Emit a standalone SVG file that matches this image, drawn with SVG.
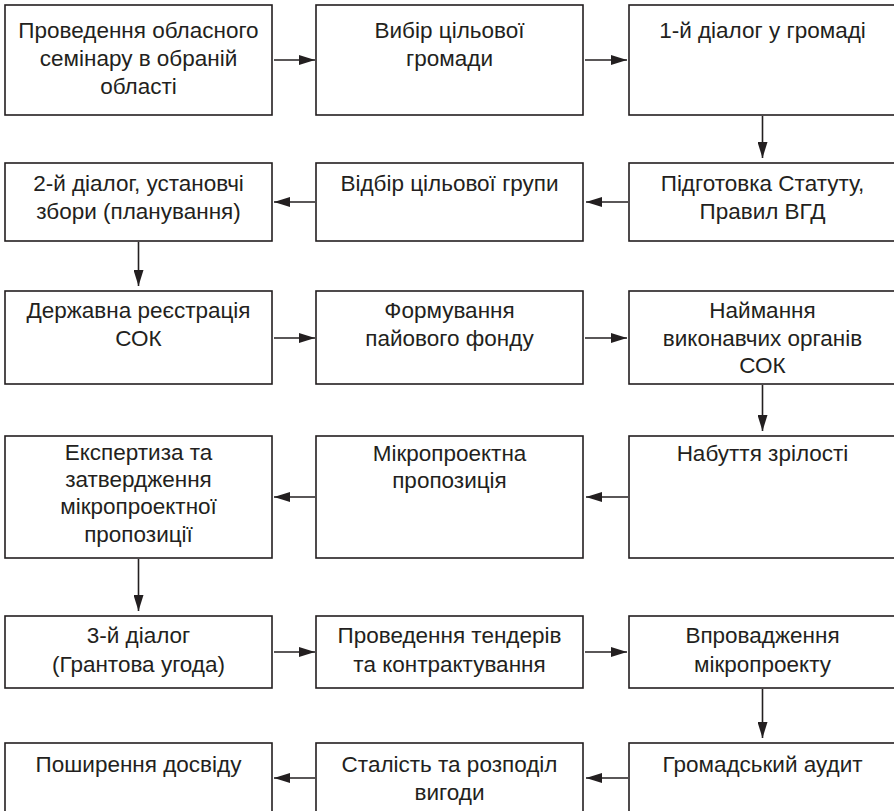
<svg xmlns="http://www.w3.org/2000/svg" width="894" height="811" viewBox="0 0 894 811">
<style>
rect.box{fill:#fff;stroke:#231f20;stroke-width:1.6}
text{font-family:"Liberation Sans",Arial,sans-serif;font-size:22.5px;fill:#231f20;text-anchor:middle}
.conn line{stroke:#231f20;stroke-width:1.6;marker-end:url(#ah)}
</style>
<defs>
<marker id="ah" viewBox="0 0 16 10" refX="16" refY="5" markerWidth="16" markerHeight="10" markerUnits="userSpaceOnUse" orient="auto">
<path d="M0,0 L16,5 L0,10 Z" fill="#231f20"/>
</marker>
</defs>
<rect width="894" height="811" fill="#fff"/>
<g id="n1"><rect class="box" x="5" y="5" width="267" height="110"/><text x="138.5" y="38">Проведення обласного</text><text x="138.5" y="66">семінару в обраній</text><text x="138.5" y="94">області</text></g>
<g id="n2"><rect class="box" x="316" y="5" width="267" height="110"/><text x="449.5" y="38">Вибір цільової</text><text x="449.5" y="66">громади</text></g>
<g id="n3"><rect class="box" x="629" y="5" width="267" height="110"/><text x="762.5" y="38">1-й діалог у громаді</text></g>
<g id="n4"><rect class="box" x="629" y="163" width="267" height="78"/><text x="762.5" y="191">Підготовка Статуту,</text><text x="762.5" y="219">Правил ВГД</text></g>
<g id="n5"><rect class="box" x="316" y="163" width="267" height="78"/><text x="449.5" y="191">Відбір цільової групи</text></g>
<g id="n6"><rect class="box" x="5" y="163" width="267" height="78"/><text x="138.5" y="191">2-й діалог, установчі</text><text x="138.5" y="219">збори (планування)</text></g>
<g id="n7"><rect class="box" x="5" y="291" width="267" height="93"/><text x="138.5" y="318">Державна реєстрація</text><text x="138.5" y="346">СОК</text></g>
<g id="n8"><rect class="box" x="316" y="291" width="267" height="93"/><text x="449.5" y="318">Формування</text><text x="449.5" y="346">пайового фонду</text></g>
<g id="n9"><rect class="box" x="629" y="291" width="267" height="93"/><text x="762.5" y="318">Наймання</text><text x="762.5" y="346">виконавчих органів</text><text x="762.5" y="373">СОК</text></g>
<g id="n10"><rect class="box" x="629" y="436" width="267" height="122"/><text x="762.5" y="461">Набуття зрілості</text></g>
<g id="n11"><rect class="box" x="316" y="436" width="267" height="122"/><text x="449.5" y="461">Мікропроектна</text><text x="449.5" y="488">пропозиція</text></g>
<g id="n12"><rect class="box" x="5" y="436" width="267" height="122"/><text x="138.5" y="460">Експертиза та</text><text x="138.5" y="487">затвердження</text><text x="138.5" y="514">мікропроектної</text><text x="138.5" y="542">пропозиції</text></g>
<g id="n13"><rect class="box" x="5" y="616" width="267" height="72"/><text x="138.5" y="643">3-й діалог</text><text x="138.5" y="672">(Грантова угода)</text></g>
<g id="n14"><rect class="box" x="316" y="616" width="267" height="72"/><text x="449.5" y="643">Проведення тендерів</text><text x="449.5" y="672">та контрактування</text></g>
<g id="n15"><rect class="box" x="629" y="616" width="267" height="72"/><text x="762.5" y="643">Впровадження</text><text x="762.5" y="672">мікропроекту</text></g>
<g id="n16"><rect class="box" x="629" y="743" width="267" height="72"/><text x="762.5" y="772">Громадський аудит</text></g>
<g id="n17"><rect class="box" x="316" y="743" width="267" height="72"/><text x="449.5" y="772">Сталість та розподіл</text><text x="449.5" y="800">вигоди</text></g>
<g id="n18"><rect class="box" x="5" y="743" width="267" height="72"/><text x="138.5" y="772">Поширення досвіду</text></g>
<g class="conn" id="connectors">
<line x1="274" y1="60" x2="315" y2="60"/>
<line x1="585" y1="60" x2="627" y2="60"/>
<line x1="762.5" y1="116" x2="762.5" y2="158"/>
<line x1="628" y1="202" x2="586" y2="202"/>
<line x1="315" y1="202" x2="274" y2="202"/>
<line x1="138.5" y1="242" x2="138.5" y2="286"/>
<line x1="274" y1="338" x2="315" y2="338"/>
<line x1="585" y1="338" x2="627" y2="338"/>
<line x1="762.5" y1="385" x2="762.5" y2="431"/>
<line x1="628" y1="497" x2="586" y2="497"/>
<line x1="315" y1="497" x2="274" y2="497"/>
<line x1="138.5" y1="559" x2="138.5" y2="611"/>
<line x1="274" y1="652" x2="315" y2="652"/>
<line x1="585" y1="652" x2="627" y2="652"/>
<line x1="762.5" y1="689" x2="762.5" y2="738"/>
<line x1="628" y1="778" x2="586" y2="778"/>
<line x1="315" y1="778" x2="274" y2="778"/>
</g>
</svg>
